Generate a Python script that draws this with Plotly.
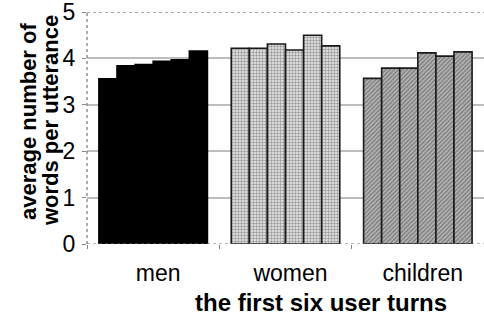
import plotly.graph_objects as go

categories = ["men", "women", "children"]
turns = ["turn 1", "turn 2", "turn 3", "turn 4", "turn 5", "turn 6"]
men = [3.56, 3.84, 3.87, 3.94, 3.97, 4.16]
women = [4.22, 4.22, 4.31, 4.18, 4.50, 4.27]
children = [3.57, 3.79, 3.79, 4.12, 4.05, 4.14]
y_ticks = [0, 1, 2, 3, 4, 5]

FONT = "Liberation Sans, Arial, sans-serif"

fig = go.Figure()
for i, t in enumerate(turns):
    fig.add_trace(go.Bar(
        name=t,
        x=categories,
        y=[men[i], women[i], children[i]],
        marker=dict(
            color=["#000000", "#eeeeee", "#b8b8b8"],
            line=dict(color=["#000000", "#1a1a1a", "#1a1a1a"], width=1.6),
            pattern=dict(
                shape=["", ".", "/"],
                fgcolor=["#000000", "#8c8c8c", "#2e2e2e"],
                size=[4, 3, 3],
                solidity=[0.5, 0.5, 0.5],
                fillmode="overlay",
            ),
        ),
        showlegend=False,
    ))

fig.update_layout(
    width=484, height=316,
    margin=dict(l=87, r=0, t=12, b=72),
    paper_bgcolor="white", plot_bgcolor="white",
    barmode="group", bargap=0.18, bargroupgap=0,
    font=dict(family=FONT, size=21, color="#000"),
    xaxis=dict(
        showgrid=False, showline=False, zeroline=False, automargin=False,
        ticks="outside", tickson="boundaries", ticklen=4, tickcolor="#888",
        tickfont=dict(size=23), ticklabelstandoff=13, ticklabelshift=5,
    ),
    yaxis=dict(
        range=[0, 5], tickvals=y_ticks, showgrid=True, gridcolor="#bdbdbd",
        gridwidth=1.5, zeroline=False, showline=False, automargin=False,
        ticks="outside", ticklen=4, tickcolor="#888", ticklabeloverflow="allow",
        tickfont=dict(size=23), ticklabelstandoff=2,
    ),
    shapes=[
        dict(type="line", xref="paper", yref="y", x0=0, x1=1, y0=5, y1=5,
             line=dict(color="white", width=2.5), layer="above"),
        dict(type="line", xref="paper", yref="y", x0=0, x1=1, y0=5, y1=5,
             line=dict(color="#555", width=1.2, dash="dot"), layer="above"),
        dict(type="line", xref="paper", yref="paper", x0=0, x1=0, y0=0, y1=1,
             line=dict(color="#777", width=1.2, dash="dot"), layer="above"),
        dict(type="line", xref="paper", yref="y", x0=0, x1=1, y0=0, y1=0,
             line=dict(color="#777", width=1.2, dash="dot"), layer="above"),
    ],
    annotations=[
        dict(text="<b>average number of</b>", xref="paper", yref="paper",
             x=0, xshift=-59, y=0.53, textangle=-90, showarrow=False,
             xanchor="center", yanchor="middle", font=dict(size=22)),
        dict(text="<b>words per utterance</b>", xref="paper", yref="paper",
             x=0, xshift=-37, y=0.53, textangle=-90, showarrow=False,
             xanchor="center", yanchor="middle", font=dict(size=22)),
        dict(text="<b>the first six user turns</b>", xref="paper", yref="paper",
             x=0.589, y=0, yshift=-58, showarrow=False,
             xanchor="center", yanchor="middle", font=dict(size=24)),
    ],
)

fig.write_html(
    "out.html",
    config={"displayModeBar": False},
    post_script="document.body.style.margin='0';document.body.style.overflow='hidden';",
)
